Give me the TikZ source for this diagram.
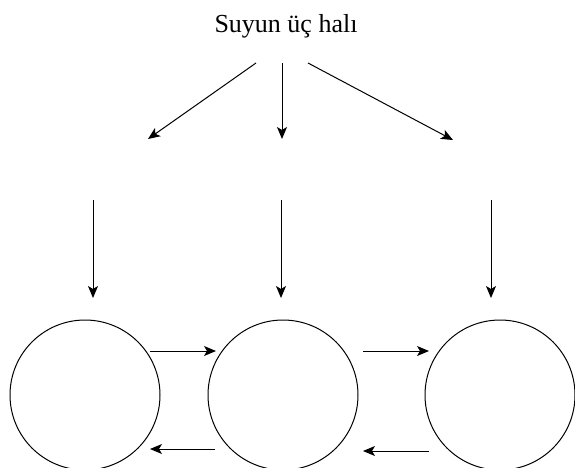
\documentclass[tikz,border=0pt]{standalone}
\usepackage{fontspec}
\setmainfont{Liberation Serif}
\usetikzlibrary{arrows.meta}
\begin{document}
\begin{tikzpicture}[x=1pt,y=-1pt,
  arr/.style={line width=1pt,-{Stealth[length=12pt,width=10pt,inset=3pt]}},
  state/.style={draw,line width=1pt,circle,minimum size=150pt,inner sep=0pt}]
\useasboundingbox (0,0) rectangle (575,467);
\node[font=\fontsize{26}{30}\selectfont,anchor=base] (title) at (286,32) {Suyun üç halı};
% top fan arrows
\coordinate (s1) at (256,63); \coordinate (e1) at (148,139);
\coordinate (s2) at (282,63); \coordinate (e2) at (282,139);
\coordinate (s3) at (308,63); \coordinate (e3) at (453,140);
\draw[arr] (s1) -- (e1);
\draw[arr] (s2) -- (e2);
\draw[arr] (s3) -- (e3);
% vertical arrows
\coordinate (v1s) at (93,200); \coordinate (v1e) at (93,298);
\coordinate (v2s) at (281,200); \coordinate (v2e) at (281,298);
\coordinate (v3s) at (491,200); \coordinate (v3e) at (491,298);
\draw[arr] (v1s) -- (v1e);
\draw[arr] (v2s) -- (v2e);
\draw[arr] (v3s) -- (v3e);
% circles
\node[state] (c1) at (85,395) {};
\node[state] (c2) at (283,395) {};
\node[state] (c3) at (500,395) {};
% horizontal arrows
\coordinate (h1s) at (150,351); \coordinate (h1e) at (216,351);
\coordinate (h2s) at (363,351); \coordinate (h2e) at (429,351);
\coordinate (b1s) at (215,449); \coordinate (b1e) at (150,449);
\coordinate (b2s) at (429,451); \coordinate (b2e) at (363,451);
\draw[arr] (h1s) -- (h1e);
\draw[arr] (h2s) -- (h2e);
\draw[arr] (b1s) -- (b1e);
\draw[arr] (b2s) -- (b2e);
\end{tikzpicture}
\end{document}
